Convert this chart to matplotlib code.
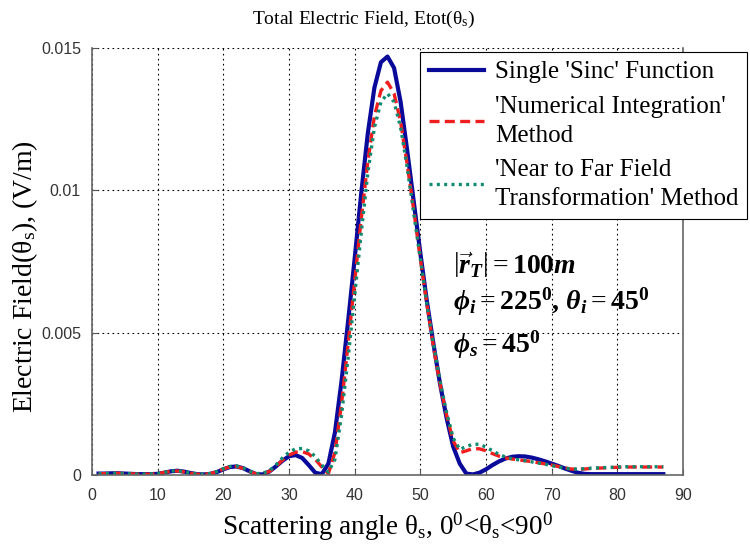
import matplotlib
matplotlib.use("Agg")
import matplotlib.pyplot as plt

plt.rcParams['font.family'] = ['Liberation Serif', 'DejaVu Serif']
plt.rcParams['mathtext.fontset'] = 'custom'
plt.rcParams['mathtext.rm'] = 'Liberation Serif'
plt.rcParams['mathtext.it'] = 'Liberation Serif:italic:bold'
plt.rcParams['mathtext.bf'] = 'Liberation Serif:bold'

# scattering angle theta_s in degrees
theta_s = list(range(1, 88))

# Single 'Sinc' function
e_sinc = [
    0.00005, 0.00005, 0.00006, 0.00006, 0.00005, 0.00004, 0.00003, 0.00003, 0.00003, 0.00004,
    0.00008, 0.00013, 0.00015, 0.00012, 0.00007, 0.00003, 0.00002, 0.00004, 0.00010, 0.00020,
    0.00028, 0.00030, 0.00024, 0.00013, 0.00003, 0.00002, 0.00012, 0.00030, 0.00050, 0.00066,
    0.00070, 0.00060, 0.00035, 0.00008, 0.00003, 0.00040, 0.00150, 0.00330, 0.00540, 0.00760,
    0.00990, 0.01200, 0.01360, 0.01450, 0.01470, 0.01430, 0.01310, 0.01140, 0.00960, 0.00780,
    0.00610, 0.00460, 0.00320, 0.00200, 0.00100, 0.00040, 0.00005, 0.00002, 0.00008, 0.00020,
    0.00035, 0.00048, 0.00058, 0.00064, 0.00066, 0.00065, 0.00061, 0.00055, 0.00048, 0.00040,
    0.00032, 0.00023, 0.00015, 0.00008, 0.00004, 0.00003, 0.00003, 0.00003, 0.00003, 0.00003,
    0.00003, 0.00003, 0.00003, 0.00003, 0.00003, 0.00003, 0.00003,
]

# 'Numerical Integration' method
e_numint = [
    0.00004, 0.00005, 0.00006, 0.00006, 0.00005, 0.00004, 0.00003, 0.00003, 0.00003, 0.00005,
    0.00009, 0.00013, 0.00014, 0.00011, 0.00006, 0.00003, 0.00002, 0.00005, 0.00011, 0.00021,
    0.00029, 0.00030, 0.00023, 0.00012, 0.00004, 0.00005, 0.00012, 0.00030, 0.00052, 0.00070,
    0.00080, 0.00082, 0.00074, 0.00055, 0.00028, 0.00005, 0.00080, 0.00250, 0.00460, 0.00680,
    0.00900, 0.01100, 0.01260, 0.01350, 0.01380, 0.01340, 0.01240, 0.01090, 0.00930, 0.00760,
    0.00600, 0.00450, 0.00320, 0.00210, 0.00120, 0.00078, 0.00085, 0.00093, 0.00092, 0.00085,
    0.00075, 0.00066, 0.00060, 0.00056, 0.00053, 0.00050, 0.00047, 0.00043, 0.00039, 0.00035,
    0.00030, 0.00025, 0.00021, 0.00020, 0.00021, 0.00023, 0.00024, 0.00025, 0.00026, 0.00027,
    0.00028, 0.00028, 0.00028, 0.00028, 0.00028, 0.00028, 0.00028,
]

# 'Near to Far Field Transformation' method
e_nf2ff = [
    0.00004, 0.00005, 0.00006, 0.00006, 0.00005, 0.00004, 0.00003, 0.00003, 0.00004, 0.00005,
    0.00009, 0.00014, 0.00015, 0.00012, 0.00007, 0.00003, 0.00003, 0.00005, 0.00012, 0.00022,
    0.00030, 0.00032, 0.00025, 0.00013, 0.00005, 0.00006, 0.00015, 0.00035, 0.00060, 0.00080,
    0.00092, 0.00093, 0.00085, 0.00065, 0.00035, 0.00010, 0.00055, 0.00210, 0.00410, 0.00630,
    0.00850, 0.01060, 0.01220, 0.01310, 0.01340, 0.01310, 0.01220, 0.01080, 0.00920, 0.00760,
    0.00600, 0.00460, 0.00330, 0.00220, 0.00130, 0.00090, 0.00100, 0.00108, 0.00108, 0.00098,
    0.00085, 0.00072, 0.00063, 0.00057, 0.00053, 0.00050, 0.00046, 0.00042, 0.00038, 0.00033,
    0.00028, 0.00024, 0.00021, 0.00021, 0.00022, 0.00024, 0.00025, 0.00026, 0.00027, 0.00028,
    0.00029, 0.00029, 0.00029, 0.00029, 0.00029, 0.00029, 0.00029,
]

x_ticks = [0, 10, 20, 30, 40, 50, 60, 70, 80, 90]
y_ticks = [0, 0.005, 0.01, 0.015]
y_tick_labels = ['0', '0.005', '0.01', '0.015']
series_labels = ["Single 'Sinc' Function",
                 "'Numerical Integration'\nMethod",
                 "'Near to Far Field\nTransformation' Method"]

W, H = 750, 547
fig = plt.figure(figsize=(W / 100, H / 100), dpi=100)
ax = fig.add_axes([92 / W, 1 - 475 / H, (683 - 92) / W, (475 - 48) / H])

ax.plot(theta_s, e_sinc, color='#0a0a9a', lw=3.0, label=series_labels[0])
ax.plot(theta_s, e_numint, color='#f01e1e', lw=2.4, ls=(0, (3.0, 1.6)), label=series_labels[1])
ax.plot(theta_s, e_nf2ff, color='#108a70', lw=2.4, ls=(0, (0.9, 1.3)), label=series_labels[2])

ax.set_xlim(0, 90)
ax.set_ylim(0, 0.015)
ax.set_xticks(x_ticks)
ax.set_yticks(y_ticks)
ax.set_yticklabels(y_tick_labels)
ax.grid(True, color='black', ls=(0, (1.5, 3)), lw=0.8)
ax.tick_params(direction='in', length=4, width=0.8, colors='#555555',
               labelcolor='#333333', labelsize=11.5, labelfontfamily='Liberation Sans')
ax.tick_params(axis='y', pad=8)
ax.tick_params(axis='x', pad=9)
for side in ('left', 'bottom', 'right'):
    ax.spines[side].set_color('#666666')
    ax.spines[side].set_linewidth(1.2)
ax.spines['top'].set_visible(False)

fig.text(364 / W, 1 - 19 / H, r"Total Electric Field, Etot($\mathrm{\theta}_{\mathrm{s}}$)",
         fontsize=14, ha='center', va='center')
ax.set_xlabel(r"Scattering angle $\mathrm{\theta}_{\mathrm{s}}$, $\mathrm{0^0}$<$\mathrm{\theta}_{\mathrm{s}}$<$\mathrm{90^0}$",
              fontsize=19.5, labelpad=6)
ax.set_ylabel(r"Electric Field($\mathrm{\theta}_{\mathrm{s}}$), (V/m)", fontsize=20)
ax.yaxis.set_label_coords((40 - 92) / 591, (475 - 277) / 427)

leg = ax.legend(loc='upper left', bbox_to_anchor=(420 / W, 1 - 52 / H),
                bbox_transform=fig.transFigure, fontsize=18, frameon=True,
                fancybox=False, edgecolor='black', framealpha=1,
                handlelength=2.2, handletextpad=0.45, borderpad=0.35,
                labelspacing=0.5, borderaxespad=0)
for t in leg.get_texts():
    t.set_linespacing(1.4)
leg.get_frame().set_linewidth(0.8)

ax.text(453 / W, 1 - 265 / H, r"$\left|\vec{r}_{T}\right| = \mathbf{100}m$",
        transform=fig.transFigure, fontsize=20, va='center', ha='left')
ax.text(453 / W, 1 - 302 / H,
        r"$\phi_{i} = \mathbf{225}^{\mathbf{0}}\mathbf{,}\ \theta_{i} = \mathbf{45}^{\mathbf{0}}$",
        transform=fig.transFigure, fontsize=20, va='center', ha='left')
ax.text(453 / W, 1 - 345 / H, r"$\phi_{s} = \mathbf{45}^{\mathbf{0}}$",
        transform=fig.transFigure, fontsize=20, va='center', ha='left')

fig.savefig('out.png', dpi=100)
